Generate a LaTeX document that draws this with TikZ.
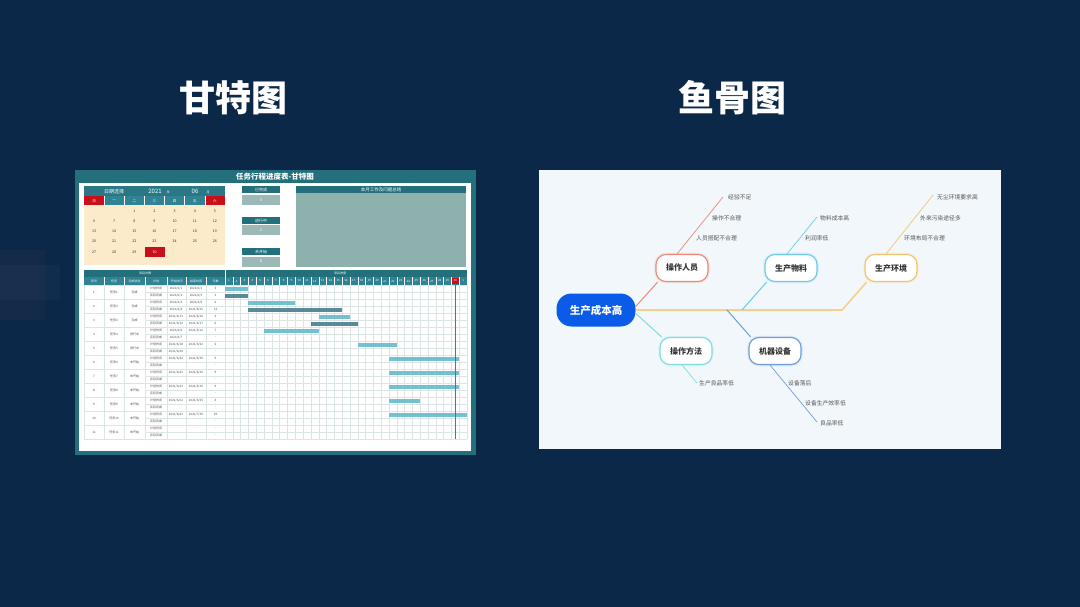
\documentclass[tikz,border=0pt]{standalone}
\usepackage{fontspec}
\setmainfont{Noto Sans CJK SC}
\definecolor{bgc}{HTML}{0B2849}
\definecolor{gteal}{HTML}{236F7B}
\definecolor{hteal}{HTML}{2A7886}
\definecolor{wteal}{HTML}{2F8393}
\definecolor{redc}{HTML}{C8101A}
\definecolor{cream}{HTML}{FCEBCB}
\definecolor{valbox}{HTML}{9DB9B7}
\definecolor{sumbody}{HTML}{8FB1AD}
\definecolor{gridc}{HTML}{DCE5E5}
\definecolor{planc}{HTML}{72C0D0}
\definecolor{actc}{HTML}{5A8A97}
\definecolor{fbbg}{HTML}{F2F7FB}
\definecolor{headblue}{HTML}{0A5CE8}
\definecolor{csalmon}{HTML}{E98A78}
\definecolor{ccyan}{HTML}{6CCBE6}
\definecolor{cyell}{HTML}{F2C46D}
\definecolor{cturq}{HTML}{7FDCE0}
\definecolor{csteel}{HTML}{6D9FD6}
\definecolor{lblc}{HTML}{555555}
\newcommand\ganttrow[8]{%
  \pgfmathsetmacro\gya{285+(#1-1)*14+3.5}%
  \pgfmathsetmacro\gyb{\gya+7}%
  \pgfmathsetmacro\gym{\gya+3.5}%
  \node[tcell] (n#1) at (94,\gym) {#1};
  \node[tcell] (t#1) at (114,\gym) {任务#1};
  \node[tcell] (s#1) at (134.5,\gym) {#2};
  \node[tcell] (pl#1) at (156,\gya) {计划时间};
  \node[tcell] (ac#1) at (156,\gyb) {实际完成};
  \node[tcell] (ps#1) at (176,\gya) {#3};
  \node[tcell] (pe#1) at (196,\gya) {#4};
  \node[tcell] (pd#1) at (215.5,\gya) {#5};
  \node[tcell] (as#1) at (176,\gyb) {#6};
  \node[tcell] (ae#1) at (196,\gyb) {#7};
  \node[tcell] (ad#1) at (215.5,\gyb) {#8};
}
\begin{document}
\begin{tikzpicture}[x=1pt,y=-1pt,
  title/.style={font=\fontsize{36}{36}\selectfont\bfseries, text=white, inner sep=0pt},
  tcell/.style={font=\fontsize{3}{3}\selectfont, text=black!70, inner sep=0pt},
  whtxt/.style={font=\fontsize{3}{3}\selectfont, text=white, inner sep=0pt},
  calnum/.style={font=\fontsize{3.6}{3.6}\selectfont, text=black!80, inner sep=0pt},
  gridline/.style={draw=gridc, line width=0.3pt},
  pnode/.style={draw=#1, line width=1.1pt, fill=white, rounded corners=10pt,
    minimum width=52pt, minimum height=27pt, inner sep=0pt,
    font=\fontsize{8}{8}\selectfont\bfseries, text=black!80,
    preaction={draw=#1, line width=3.5pt, opacity=0.18}},
  bone/.style={draw=#1, line width=1pt},
  lbl/.style={font=\fontsize{5.8}{5.8}\selectfont, text=lblc, inner sep=0pt, anchor=west}
]
\useasboundingbox (0,0) rectangle (1080,607);
% background
\fill[bgc] (0,0) rectangle (1080,607);
\fill[red!40!gray, opacity=0.06] (0,250) rectangle (45,320);
\fill[white, opacity=0.025] (0,265) rectangle (60,300);

% titles
\node[title] (t1) at (233,98) {甘特图};
\node[title] (t2) at (732,98) {鱼骨图};

% ================= Gantt =================
\fill[gteal] (75,170) rectangle (476,455);
\fill[white] (79,183) rectangle (471,451);
\node[font=\fontsize{7.5}{7.5}\selectfont\bfseries, text=white, inner sep=0pt] (gtitle) at (275,176.5) {任务行程进度表-甘特图};

% calendar
\fill[hteal] (84,186.5) rectangle (225,196);
\node[font=\fontsize{5}{5}\selectfont, text=white, inner sep=0pt] (cal1) at (114,191.3) {日期选择};
\node[font=\fontsize{6}{6}\selectfont, text=white, inner sep=0pt] (cal2) at (155,191) {2021};
\node[font=\fontsize{3}{3}\selectfont, text=white, inner sep=0pt] (cal3) at (168,192.5) {年};
\node[font=\fontsize{6}{6}\selectfont, text=white, inner sep=0pt] (cal4) at (195,191) {06};
\node[font=\fontsize{3}{3}\selectfont, text=white, inner sep=0pt] (cal5) at (208,192.5) {月};
\fill[wteal] (84,196.5) rectangle (225,205.5);
\fill[redc] (84,196.5) rectangle (104.14,205.5);
\fill[redc] (204.86,196.5) rectangle (225,205.5);
\foreach \k in {1,...,6} \draw[white, line width=0.5pt] ({84+20.14*\k},196.5) -- ({84+20.14*\k},205.5);
\foreach \w [count=\k from 0] in {日,一,二,三,四,五,六}
  \node[font=\fontsize{3.6}{3.6}\selectfont, text=white, inner sep=0pt] (wd\k) at ({94.07+20.14*\k},201) {\w};
\fill[cream] (84,205.5) rectangle (225,265);
\fill[redc] (144.8,246.5) rectangle (164.6,257);
\foreach \d in {1,...,29}{
  \pgfmathtruncatemacro\cr{int((\d+1)/7)}
  \pgfmathtruncatemacro\cc{mod(\d+1,7)}
  \node[calnum] (c\d) at ({94.07+20.14*\cc},{211+10.2*\cr}) {\d};
}
\node[calnum, text=white] (c30) at (154.7,251.8) {30};

% status boxes
\foreach \ty/\lab/\v [count=\k] in {186.5/已完成/3, 217/进行中/2, 248/未开始/6}{
  \fill[gteal] (242,\ty) rectangle (280,\ty+7);
  \node[font=\fontsize{4}{4}\selectfont, text=white, inner sep=0pt] (sh\k) at (261,\ty+3.5) {\lab};
  \fill[valbox] (242,\ty+8.5) rectangle (280,\ty+18.5);
  \node[font=\fontsize{4}{4}\selectfont, text=white, inner sep=0pt] (sv\k) at (261,\ty+13.5) {\v};
}

% summary panel
\fill[gteal] (296,186) rectangle (466,193);
\node[font=\fontsize{4.5}{4.5}\selectfont, text=white, inner sep=0pt] (sum) at (381,189.5) {本月工作及问题总结};
\fill[sumbody] (296,193) rectangle (466,267);

% table headers
\fill[gteal] (84,270) rectangle (467,277);
\draw[white, line width=0.5pt] (225,270) -- (225,277);
\node[whtxt] (hd1) at (145,273.5) {项目详情};
\node[whtxt] (hd2) at (340,273.5) {项目进度};
\fill[wteal] (84,277) rectangle (467,285);
\fill[redc] ({225+29*7.806},277.6) rectangle ({225+30*7.806},284.4);
\foreach \xx in {104,124,145,167,186,206,225} \draw[white, line width=0.4pt] (\xx,277) -- (\xx,285);
\foreach \i in {1,...,30} \draw[white, line width=0.3pt] ({225+\i*7.806},277) -- ({225+\i*7.806},285);
\foreach \lab/\xx [count=\k] in {序号/94, 任务/114, 完成状态/134.5, 计划/156, 开始时间/176.5, 结束时间/196, 天数/215.5}
  \node[whtxt] (ch\k) at (\xx,281) {\lab};
\foreach \i in {1,...,31}{
  \pgfmathtruncatemacro\dn{ifthenelse(\i==31,1,\i)}
  \node[font=\fontsize{2.8}{2.8}\selectfont, text=white, inner sep=0pt] (dh\i) at ({225+(\i-0.5)*7.806},281) {\dn};
}

% grid
\foreach \i in {0,...,31} \draw[gridline] ({225+\i*7.806},285) -- ({225+\i*7.806},439);
\foreach \j in {0,...,22} \draw[gridline] (225,285+7*\j) -- (467,285+7*\j);
\foreach \xx in {84,104,124,145,167,186,206} \draw[gridline] (\xx,285) -- (\xx,439);
\foreach \j in {0,...,11} \draw[gridline] (84,285+14*\j) -- (225,285+14*\j);
\foreach \j in {0,...,10} \draw[gridline] (145,292+14*\j) -- (225,292+14*\j);

% bars
\foreach \i/\s/\e/\k in {1/1/3/0, 1/1/3/1, 2/4/9/0, 2/4/15/1, 3/13/16/0, 3/12/17/1, 4/6/12/0, 5/18/22/0, 6/22/30/0, 7/22/30/0, 8/22/30/0, 9/22/25/0, 10/22/31/0}{
  \pgfmathsetmacro\yc{285+(\i-1)*14+3.5+\k*7}
  \ifnum\k=0 \def\bc{planc}\else\def\bc{actc}\fi
  \fill[\bc] ({225+(\s-1)*7.806},\yc-2) rectangle ({225+\e*7.806},\yc+2);
}
\draw[redc!80, line width=0.5pt] ({225+29.5*7.806},285) -- ({225+29.5*7.806},439);

% table data
\ganttrow{1}{完成}{2021/6/1}{2021/6/3}{3}{2021/6/1}{2021/6/3}{3}
\ganttrow{2}{完成}{2021/6/4}{2021/6/9}{6}{2021/6/4}{2021/6/15}{12}
\ganttrow{3}{完成}{2021/6/13}{2021/6/16}{4}{2021/6/12}{2021/6/17}{6}
\ganttrow{4}{进行中}{2021/6/6}{2021/6/12}{7}{2021/6/7}{}{-}
\ganttrow{5}{进行中}{2021/6/18}{2021/6/22}{5}{2021/6/20}{}{-}
\ganttrow{6}{未开始}{2021/6/22}{2021/6/30}{9}{}{}{-}
\ganttrow{7}{未开始}{2021/6/22}{2021/6/30}{9}{}{}{-}
\ganttrow{8}{未开始}{2021/6/22}{2021/6/30}{9}{}{}{-}
\ganttrow{9}{未开始}{2021/6/22}{2021/6/25}{4}{}{}{-}
\ganttrow{10}{未开始}{2021/6/22}{2021/7/30}{39}{}{}{-}
\ganttrow{11}{未开始}{}{}{-}{}{}{-}

% ================= Fishbone =================
\fill[fbbg] (539,170) rectangle (1001,449);

\node[fill=headblue, rounded corners=15pt, minimum width=79pt, minimum height=33pt, inner sep=0pt,
  font=\fontsize{10.5}{10.5}\selectfont\bfseries, text=white] (head) at (596,310) {生产成本高};
\node[pnode=csalmon] (p1) at (682,268) {操作人员};
\node[pnode=ccyan] (p2) at (791,268) {生产物料};
\node[pnode=cyell] (p3) at (891,268) {生产环境};
\node[pnode=cturq] (p4) at (686,351) {操作方法};
\node[pnode=csteel] (p5) at (775,351) {机器设备};

\coordinate (sp1) at (842,310);
\coordinate (sp2) at (742,310);
\coordinate (sp3) at (727,310);
\draw[draw=cyell!80, line width=1.6pt, line join=round] (head.east) -- (sp1) -- (p3.210);
\draw[bone=csalmon] (head.5) -- (p1.210);
\draw[bone=cturq] (head.-5) -- (p4.150);
\draw[bone=ccyan] (sp2) -- (p2.210);
\draw[bone=csteel] (sp3) -- (p5.150);

\coordinate (e1) at (723,197);
\coordinate (e2) at (817,217);
\coordinate (e3) at (933,195);
\coordinate (e4) at (697,383);
\coordinate (e5) at (817,422);
\draw[bone=csalmon, line width=0.7pt] ([xshift=-5pt]p1.north) -- (e1);
\draw[bone=ccyan, line width=0.7pt] ([xshift=-4pt]p2.north) -- (e2);
\draw[bone=cyell, line width=0.7pt] ([xshift=-5pt]p3.north) -- (e3);
\draw[bone=cturq, line width=0.7pt] ([xshift=-4pt]p4.south) -- (e4);
\draw[bone=csteel, line width=0.7pt] ([xshift=-5pt]p5.south) -- (e5);

\node[lbl] (l11) at (728,197) {经验不足};
\node[lbl] (l12) at (712,218) {操作不合理};
\node[lbl] (l13) at (696,238) {人员搭配不合理};
\node[lbl] (l21) at (820,218) {物料成本高};
\node[lbl] (l22) at (805,238) {利润率低};
\node[lbl] (l31) at (937,197) {无尘环境要求高};
\node[lbl] (l32) at (920,218) {外来污染途径多};
\node[lbl] (l33) at (904,238) {环境布局不合理};
\node[lbl] (l41) at (699,383) {生产良品率低};
\node[lbl] (l51) at (788,383) {设备落后};
\node[lbl] (l52) at (805,403) {设备生产效率低};
\node[lbl] (l53) at (820,423) {良品率低};
\end{tikzpicture}
\end{document}
